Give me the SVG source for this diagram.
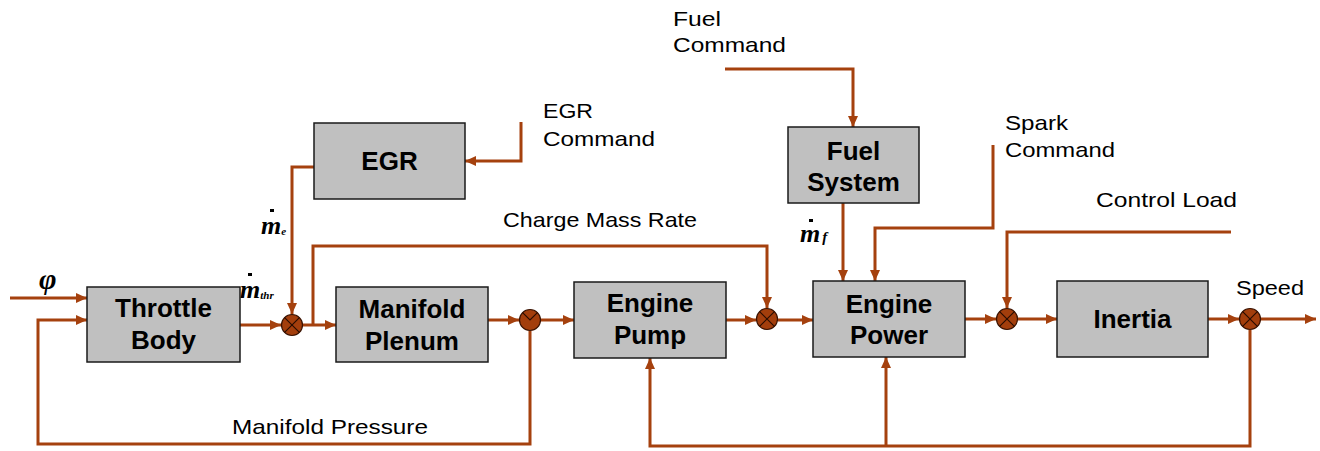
<svg xmlns="http://www.w3.org/2000/svg" width="1320" height="451" viewBox="0 0 1320 451">
<style>
.box{fill:#c0c0c0;stroke:#1a1a1a;stroke-width:1.5}
.bt{font-family:"Liberation Sans",Arial,sans-serif;font-weight:bold;font-size:26px;fill:#000;text-anchor:middle}
.lt{font-family:"Liberation Sans",Arial,sans-serif;font-size:21px;fill:#000}
.w{fill:none;stroke:#a5410e;stroke-width:3}
.ar{marker-end:url(#ah)}
.jn{fill:#a33e0c;stroke:#3a1200;stroke-width:1.2}
.jx{fill:none;stroke:#2a0d00;stroke-width:1.2}
.mt{font-family:"Liberation Serif","Times New Roman",serif;font-weight:bold;font-style:italic;font-size:26px;fill:#000}
.dot{fill:#000}
</style>
<defs>
<marker id="ah" markerUnits="userSpaceOnUse" markerWidth="12" markerHeight="10" refX="11" refY="5" orient="auto">
<path d="M0,0 L11,5 L0,10 z" fill="#a5410e"/>
</marker>
</defs>
<rect width="1320" height="451" fill="#fff"/>
<g id="connectors">
<path class="w ar" d="M10,298 H87"/>
<path class="w ar" d="M530,331 V444 H38 V320 H87"/>
<path class="w ar" d="M240,325 H281"/>
<path class="w ar" d="M314,167 H292 V314"/>
<path class="w ar" d="M521,122 V161 H465"/>
<path class="w ar" d="M303,325 H336"/>
<path class="w ar" d="M313,325 V246 H767 V308"/>
<path class="w ar" d="M488,320 H519"/>
<path class="w ar" d="M541,320 H574"/>
<path class="w ar" d="M726,320 H756"/>
<path class="w ar" d="M778,320 H813"/>
<path class="w ar" d="M725,69 H853 V127"/>
<path class="w ar" d="M843,203 V281"/>
<path class="w ar" d="M993,145 V228 H875 V281"/>
<path class="w ar" d="M1231,232 H1007 V308"/>
<path class="w ar" d="M965,319 H996"/>
<path class="w ar" d="M1018,319 H1057"/>
<path class="w ar" d="M1208,319 H1239"/>
<path class="w ar" d="M1261,319 H1316"/>
<path class="w ar" d="M1250,330 V446 H650 V358"/>
<path class="w ar" d="M886,446 V357"/>
</g>
<g id="throttle-body">
<rect class="box" x="87" y="287" width="153" height="75"/>
<text class="bt" x="163.5" y="317">Throttle</text>
<text class="bt" x="163.5" y="349">Body</text>
</g>
<g id="egr">
<rect class="box" x="314" y="123" width="151" height="76"/>
<text class="bt" x="389.5" y="170">EGR</text>
</g>
<g id="manifold-plenum">
<rect class="box" x="336" y="287" width="152" height="75"/>
<text class="bt" x="412" y="318">Manifold</text>
<text class="bt" x="412" y="350">Plenum</text>
</g>
<g id="engine-pump">
<rect class="box" x="574" y="282" width="152" height="76"/>
<text class="bt" x="650" y="312">Engine</text>
<text class="bt" x="650" y="344">Pump</text>
</g>
<g id="fuel-system">
<rect class="box" x="788" y="127" width="131" height="76"/>
<text class="bt" x="853.5" y="160">Fuel</text>
<text class="bt" x="853.5" y="191">System</text>
</g>
<g id="engine-power">
<rect class="box" x="813" y="281" width="152" height="76"/>
<text class="bt" x="889" y="313">Engine</text>
<text class="bt" x="889" y="344">Power</text>
</g>
<g id="inertia">
<rect class="box" x="1057" y="281" width="151" height="76"/>
<text class="bt" x="1132.5" y="328">Inertia</text>
</g>
<g id="sum1">
<circle class="jn" cx="292" cy="325" r="10.5"/>
<path class="jx" d="M284.6,317.6 L299.4,332.4 M299.4,317.6 L284.6,332.4"/>
</g>
<g id="sum2">
<circle class="jn" cx="530" cy="320" r="10.5"/>
<path class="jx" d="M522.6,312.6 L530,320 L537.4,312.6"/>
</g>
<g id="sum3">
<circle class="jn" cx="767" cy="319" r="10.5"/>
<path class="jx" d="M759.6,311.6 L774.4,326.4 M774.4,311.6 L759.6,326.4"/>
</g>
<g id="sum4">
<circle class="jn" cx="1007" cy="319" r="10.5"/>
<path class="jx" d="M999.6,311.6 L1014.4,326.4 M1014.4,311.6 L999.6,326.4"/>
</g>
<g id="sum5">
<circle class="jn" cx="1250" cy="319" r="10.5"/>
<path class="jx" d="M1242.6,311.6 L1257.4,326.4 M1257.4,311.6 L1242.6,326.4"/>
</g>
<g id="labels">
<text class="mt" x="39" y="289" style="font-size:30px">φ</text>
<rect class="dot" x="270" y="209" width="4" height="3"/>
<text class="mt" x="261" y="234">m<tspan font-size="11" dy="1">e</tspan></text>
<rect class="dot" x="248" y="273" width="4" height="3"/>
<text class="mt" x="240" y="298">m<tspan font-size="11" dy="1">thr</tspan></text>
<rect class="dot" x="809" y="219" width="4" height="3"/>
<text class="mt" x="800" y="242">m<tspan font-size="15" dx="2">f</tspan></text>
<text class="lt" x="543" y="118" textLength="50" lengthAdjust="spacingAndGlyphs">EGR</text>
<text class="lt" x="543" y="146" textLength="112" lengthAdjust="spacingAndGlyphs">Command</text>
<text class="lt" x="673" y="26" textLength="48" lengthAdjust="spacingAndGlyphs">Fuel</text>
<text class="lt" x="673" y="52" textLength="113" lengthAdjust="spacingAndGlyphs">Command</text>
<text class="lt" x="1005" y="130" textLength="63" lengthAdjust="spacingAndGlyphs">Spark</text>
<text class="lt" x="1005" y="157" textLength="110" lengthAdjust="spacingAndGlyphs">Command</text>
<text class="lt" x="503" y="227" textLength="194" lengthAdjust="spacingAndGlyphs">Charge Mass Rate</text>
<text class="lt" x="1096" y="207" textLength="141" lengthAdjust="spacingAndGlyphs">Control Load</text>
<text class="lt" x="1236" y="295" textLength="68" lengthAdjust="spacingAndGlyphs">Speed</text>
<text class="lt" x="232" y="434" textLength="196" lengthAdjust="spacingAndGlyphs">Manifold Pressure</text>
</g>
</svg>
